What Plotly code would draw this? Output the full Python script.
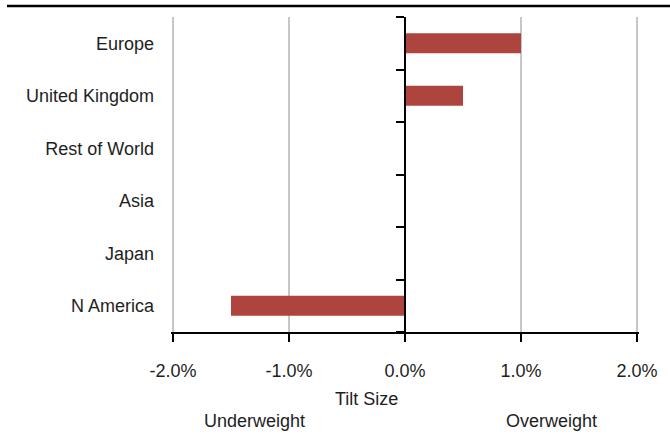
import plotly.graph_objects as go

# Regional tilts, listed bottom-to-top on the chart
regions = ["N America", "Japan", "Asia", "Rest of World", "United Kingdom", "Europe"]
tilt_pct = [-1.5, 0.0, 0.0, 0.0, 0.5, 1.0]

x_tick_vals = [-2, -1, 0, 1, 2]
x_tick_text = ["-2.0%", "-1.0%", "0.0%", "1.0%", "2.0%"]

BAR_COLOR = "#AE443E"
TEXT_COLOR = "#1e1e1e"
FONT = "Liberation Sans, Arial, sans-serif"
FS = 18

# plot box in pixels
PLOT_L, PLOT_T = 171, 17
PLOT_W, PLOT_H = 468, 315
PLOT_B = PLOT_T + PLOT_H

# small padding so the gridlines at ±2% are not dropped at the plot edges
X_PAD = 0.0172


def px_to_paper_x(px):
    return (px - PLOT_L) / PLOT_W


def px_to_paper_y(py):
    return (PLOT_B - py) / PLOT_H


fig = go.Figure()

fig.add_trace(go.Bar(
    x=tilt_pct,
    y=regions,
    orientation="h",
    marker=dict(color=BAR_COLOR, line=dict(width=0)),
    width=0.38,
    hoverinfo="x+y",
    showlegend=False,
))

# invisible helper trace so the zero-crossing category axis is laid out
fig.add_trace(go.Scatter(
    x=[0], y=[0], yaxis="y2", mode="markers",
    marker=dict(opacity=0), hoverinfo="skip", showlegend=False,
))

boundaries = [i - 0.5 for i in range(len(regions) + 1)]

fig.update_layout(
    width=670, height=440,
    margin=dict(l=PLOT_L, r=670 - PLOT_L - PLOT_W, t=PLOT_T, b=440 - PLOT_B),
    paper_bgcolor="white",
    plot_bgcolor="white",
    font=dict(family=FONT, size=FS, color=TEXT_COLOR),
    xaxis=dict(
        range=[-2 - X_PAD, 2 + X_PAD],
        tickvals=x_tick_vals,
        ticktext=x_tick_text,
        showgrid=True,
        gridcolor="#C6C6C6",
        gridwidth=2,
        zeroline=False,
        showline=True,
        linecolor="black",
        linewidth=2,
        ticks="outside",
        ticklen=8,
        tickwidth=2,
        tickcolor="black",
        ticklabelstandoff=13,
        tickfont=dict(family=FONT, size=FS, color=TEXT_COLOR),
    ),
    yaxis=dict(
        type="category",
        categoryorder="array",
        categoryarray=regions,
        range=[-0.5, len(regions) - 0.5],
        showgrid=False,
        zeroline=False,
        showline=False,
        ticks="",
        ticklabelstandoff=16,
        tickfont=dict(family=FONT, size=FS, color=TEXT_COLOR),
    ),
    yaxis2=dict(
        overlaying="y",
        anchor="free",
        position=0.5,
        side="left",
        range=[-0.5, len(regions) - 0.5],
        tickvals=boundaries,
        showticklabels=False,
        ticks="outside",
        ticklen=8,
        tickwidth=2,
        tickcolor="black",
        showline=True,
        linecolor="black",
        linewidth=2,
        showgrid=False,
        zeroline=False,
    ),
)

# rule across the top of the chart
fig.add_shape(
    type="line", xref="paper", yref="paper",
    x0=px_to_paper_x(7), x1=px_to_paper_x(670),
    y0=px_to_paper_y(6), y1=px_to_paper_y(6),
    line=dict(color="black", width=2.5),
)

for text, cx, cy in [("Tilt Size", 366, 399),
                     ("Underweight", 254, 421),
                     ("Overweight", 551, 421)]:
    fig.add_annotation(
        text=text, xref="paper", yref="paper",
        x=px_to_paper_x(cx), y=px_to_paper_y(cy),
        showarrow=False, xanchor="center", yanchor="middle",
        font=dict(family=FONT, size=FS, color=TEXT_COLOR),
    )

fig.write_html("out.html")
